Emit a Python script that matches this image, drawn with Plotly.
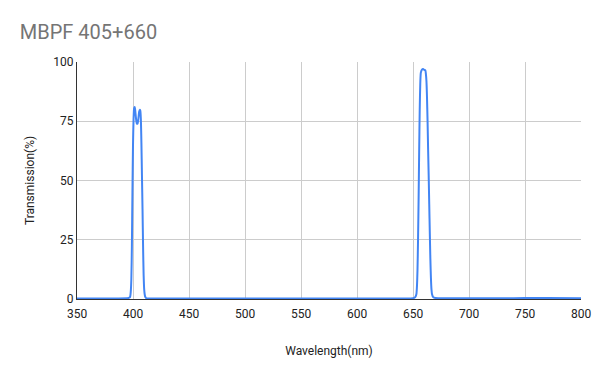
import plotly.graph_objects as go

wavelength = [350, 380, 395, 396, 397, 397.5, 398, 398.5, 399, 399.5, 400, 400.5, 401, 401.5, 402, 402.5, 403,
              403.5, 404, 404.5, 405, 405.5, 406, 406.5, 407, 407.5, 408, 408.5, 409, 409.5, 410, 410.5, 411,
              412, 415, 450, 500, 550, 600, 640, 650, 652, 653, 653.5, 654, 654.5, 655, 655.5, 656, 656.5, 657,
              658, 659, 660, 661, 661.5, 662, 662.5, 663, 663.5, 664, 664.5, 665, 665.5, 666, 666.5, 667, 668,
              670, 680, 700, 730, 750, 770, 800]
transmission = [0.2, 0.2, 0.3, 0.4, 0.6, 1.0, 3.0, 8.0, 22.0, 45.0, 65.0, 76.0, 80.5, 81.0, 79.5, 77.0, 75.0,
                74.0, 74.0, 75.0, 77.0, 79.0, 79.8, 79.5, 76.0, 66.0, 52.0, 38.0, 22.0, 10.0, 4.0, 1.8, 0.8,
                0.3, 0.2, 0.2, 0.2, 0.2, 0.2, 0.2, 0.3, 0.8, 2.0, 5.0, 12.0, 25.0, 42.0, 62.0, 80.0, 91.0, 95.5,
                96.8, 97.0, 96.7, 96.5, 95.0, 92.0, 85.0, 75.0, 63.0, 52.0, 40.0, 28.0, 17.0, 9.0, 4.0, 2.0, 0.8,
                0.4, 0.3, 0.3, 0.3, 0.4, 0.4, 0.3]

x_ticks = [350, 400, 450, 500, 550, 600, 650, 700, 750, 800]
y_ticks = [0, 25, 50, 75, 100]

fig = go.Figure()
fig.add_trace(go.Scatter(x=wavelength, y=transmission, mode="lines",
                         line=dict(color="#4285F4", width=2, shape="spline", smoothing=0.6),
                         showlegend=False, hoverinfo="x+y"))

fig.update_layout(
    width=600, height=371,
    margin=dict(l=77, r=19, t=62, b=72),
    paper_bgcolor="white", plot_bgcolor="white",
    font=dict(family="Roboto, Arial, sans-serif", color="#222222", size=12),
    title=dict(text="MBPF 405+660", x=0.033, xanchor="left", y=0.915, yanchor="middle",
               font=dict(size=20, color="#757575", family="Roboto, Arial, sans-serif")),
    xaxis=dict(range=[350, 800], tickvals=x_ticks, ticktext=[str(v) for v in x_ticks],
               automargin=False,
               showgrid=True, gridcolor="#cccccc", gridwidth=1, zeroline=False,
               showline=True, linecolor="#333333", linewidth=1, ticks="",
               ticklabelstandoff=4,
               title=dict(text="Wavelength(nm)", font=dict(size=12, color="#222222"), standoff=26),
               tickfont=dict(size=12, color="#222222")),
    yaxis=dict(range=[0, 100], tickvals=y_ticks, ticktext=[str(v) for v in y_ticks],
               automargin=False,
               showgrid=True, gridcolor="#cccccc", gridwidth=1, zeroline=False,
               showline=True, linecolor="#333333", linewidth=1, ticks="",
               title=dict(text="Transmission(%)", font=dict(size=12, color="#222222"), standoff=16),
               tickfont=dict(size=12, color="#222222")),
)

fig.write_html("out.html")
